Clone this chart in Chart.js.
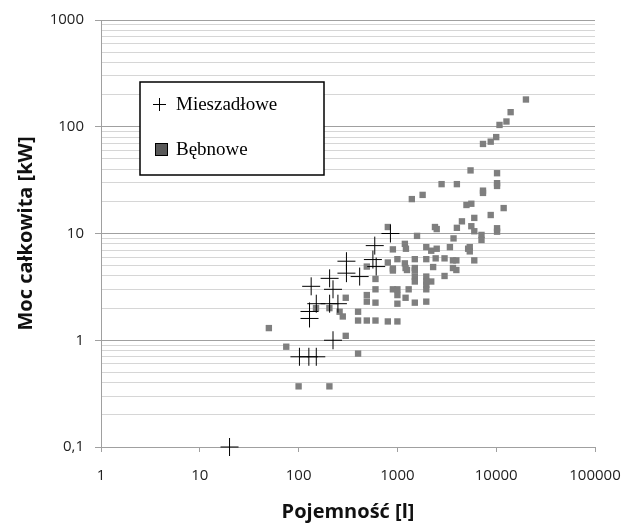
<!DOCTYPE html>
<html>
<head>
<meta charset="utf-8">
<script src="https://cdn.jsdelivr.net/npm/chart.js@4"></script>
<style>
  body { margin: 0; background: #fff; }
</style>
</head>
<body>
<canvas id="myChart" width="624" height="526"></canvas>
<script>
// Mieszadlowe (krzyzyki)
var mieszX = [20, 102, 127, 151, 223, 129, 129, 151, 206, 250, 134, 223, 206, 305, 305, 415, 565, 610, 590, 850]
var mieszY = [0.1, 0.7, 0.7, 0.7, 1.0, 1.86, 1.6, 2.2, 2.2, 2.2, 3.2, 3.0, 3.8, 5.5, 4.25, 3.95, 5.7, 4.9, 7.7, 10]

// Bebnowe (kwadraty)
var bebX = [50, 75, 100, 205, 300, 400, 150, 205, 260, 280, 300, 400, 400, 490, 600, 800, 1000,
    490, 490, 600, 600, 600, 490, 800, 800, 900, 900, 900, 900, 1000, 1000, 1000, 1000,
    1190, 1220, 1190, 1210, 1250, 1210, 1300, 1400, 1500, 1500, 1500, 1500, 1500, 1500, 1580,
    1800, 1960, 2200, 2500, 1960, 1960, 1960, 1960, 1960, 1960, 2200, 2300, 2400, 2500, 2440,
    2800, 3000, 3000, 3400, 3700, 4000, 4000, 3650, 3950, 3650, 3950, 4500, 5000, 5600, 5500,
    5200, 5400, 5400, 5600, 6000, 6000, 6000, 7350, 7350, 7350, 8800, 10000, 10800, 12700,
    14000, 20000, 10200, 10200, 10200, 11900, 8800, 10200, 10200, 7100, 7100]
var bebY = [1.3, 0.87, 0.37, 0.37, 1.1, 0.75, 2.0, 2.0, 1.85, 1.67, 2.5, 1.85, 1.53, 1.53, 1.53, 1.5, 1.5,
    2.65, 2.3, 2.25, 3.0, 3.75, 4.9, 11.5, 5.35, 7.1, 4.7, 4.5, 3.0, 3.0, 2.65, 2.2, 5.75,
    8.0, 7.2, 5.25, 4.75, 4.55, 2.5, 3.0, 21, 5.75, 4.75, 4.5, 3.95, 3.55, 2.25, 9.5,
    23, 7.45, 6.9, 7.2, 5.75, 3.95, 3.55, 3.3, 3.0, 2.3, 3.55, 4.85, 11.5, 11, 5.85,
    29, 5.85, 4.0, 7.45, 9.0, 11.3, 29, 5.6, 5.6, 4.75, 4.55, 13, 18.5, 19, 39,
    7.2, 7.45, 6.8, 11.7, 10.5, 14, 5.6, 25.2, 24, 69, 72.5, 80, 104, 112,
    137, 180, 36.7, 29.6, 27.9, 17.3, 14.9, 11.2, 10.4, 9.7, 8.7]

var xTicks = [1, 10, 100, 1000, 10000, 100000]
var xLabels = ["1", "10", "100", "1000", "10000", "100000"]
var yTicks = [0.1, 1, 10, 100, 1000]
var yLabels = ["0,1", "1", "10", "100", "1000"]

function toPoints(xs, ys) {
    var pts = []
    for (let i = 0; i < xs.length; i++) {
        pts.push({x: xs[i], y: ys[i]})
    }
    return pts
}

// decades + minor lines 2..9
function buildYTicks(scale) {
    var t = []
    for (let i = 0; i < yTicks.length; i++) {
        t.push({value: yTicks[i], major: true})
        if (i < yTicks.length - 1) {
            for (let k = 2; k <= 9; k++) {
                t.push({value: parseFloat((yTicks[i] * k).toPrecision(6)), major: false})
            }
        }
    }
    scale.ticks = t
}

function buildXTicks(scale) {
    scale.ticks = xTicks.map(v => ({value: v, major: true}))
}

var legendBox = {
    id: "legendBox",
    afterDraw: function (chart) {
        var c = chart.ctx
        var ds = chart.data.datasets
        c.save()
        c.fillStyle = "#fff"
        c.fillRect(140, 82, 184, 93)
        c.strokeStyle = "#000"
        c.lineWidth = 1.5
        c.strokeRect(140, 82, 184, 93)

        // cross
        c.lineWidth = 1
        c.beginPath()
        c.moveTo(153, 104.5); c.lineTo(166, 104.5)
        c.moveTo(159.5, 98); c.lineTo(159.5, 111)
        c.stroke()
        // square
        c.fillStyle = "#595959"
        c.fillRect(155, 143, 13, 13)
        c.strokeRect(155.5, 143.5, 12, 12)

        c.fillStyle = "#000"
        c.font = "19px 'Liberation Serif'"
        c.textBaseline = "middle"
        c.fillText(ds[0].label, 176, 105)
        c.fillText(ds[1].label, 176, 150)
        c.restore()
    }
}

var ctx = document.getElementById("myChart")
var myChart = new Chart(ctx, {
    type: "scatter",
    data: {
        datasets: [
            {
                label: "Mieszadłowe",
                data: toPoints(mieszX, mieszY),
                pointStyle: "cross",
                pointRadius: 9,
                borderColor: "#000",
                borderWidth: 1,
                backgroundColor: "#000",
                clip: false
            },
            {
                label: "Bębnowe",
                data: toPoints(bebX, bebY),
                pointStyle: "rect",
                pointRadius: 4.5,
                borderWidth: 0,
                borderColor: "#7f7f7f",
                backgroundColor: "#7f7f7f",
                clip: false
            }
        ]
    },
    options: {
        responsive: false,
        animation: false,
        layout: {padding: {top: 20, right: 29, left: 0, bottom: 0}},
        plugins: {
            legend: {display: false},
            tooltip: {enabled: false}
        },
        scales: {
            x: {
                type: "logarithmic",
                min: 1,
                max: 100000,
                afterBuildTicks: buildXTicks,
                afterFit: function (s) {
                    s.height = 79
                    s.paddingLeft = 0
                    s.paddingRight = 0
                },
                grid: {
                    drawOnChartArea: false,
                    tickLength: 5,
                    color: "#a0a0a0"
                },
                border: {display: true, color: "#a0a0a0"},
                ticks: {
                    autoSkip: false,
                    maxRotation: 0,
                    padding: 15,
                    color: "#222",
                    font: {family: "'Open Sans'", size: 15},
                    callback: function (v, i) { return xLabels[i] }
                },
                title: {
                    display: true,
                    text: "Pojemność [l]",
                    color: "#111",
                    font: {family: "'Open Sans'", size: 20, weight: "bold"},
                    padding: {top: 0, bottom: 2}
                }
            },
            y: {
                type: "logarithmic",
                min: 0.1,
                max: 1000,
                afterBuildTicks: buildYTicks,
                afterFit: function (s) {
                    s.width = 101
                    s.paddingTop = 0
                    s.paddingBottom = 0
                },
                grid: {
                    tickLength: 6,
                    color: function (c) { return c.tick && c.tick.major ? "#a0a0a0" : "#d6d6d6" },
                    tickColor: function (c) { return c.tick && c.tick.major ? "#a0a0a0" : "rgba(0,0,0,0)" }
                },
                border: {display: true, color: "#a0a0a0"},
                ticks: {
                    autoSkip: false,
                    padding: 11,
                    color: "#222",
                    font: {family: "'Open Sans'", size: 15},
                    callback: function (v, i, t) {
                        var k = yTicks.indexOf(t[i].value)
                        return k >= 0 ? yLabels[k] : ""
                    }
                },
                title: {
                    display: true,
                    text: "Moc całkowita [kW]",
                    color: "#111",
                    font: {family: "'Open Sans'", size: 20, weight: "bold"},
                    padding: {top: 14, bottom: 0}
                }
            }
        }
    },
    plugins: [legendBox]
})
</script>
</body>
</html>
